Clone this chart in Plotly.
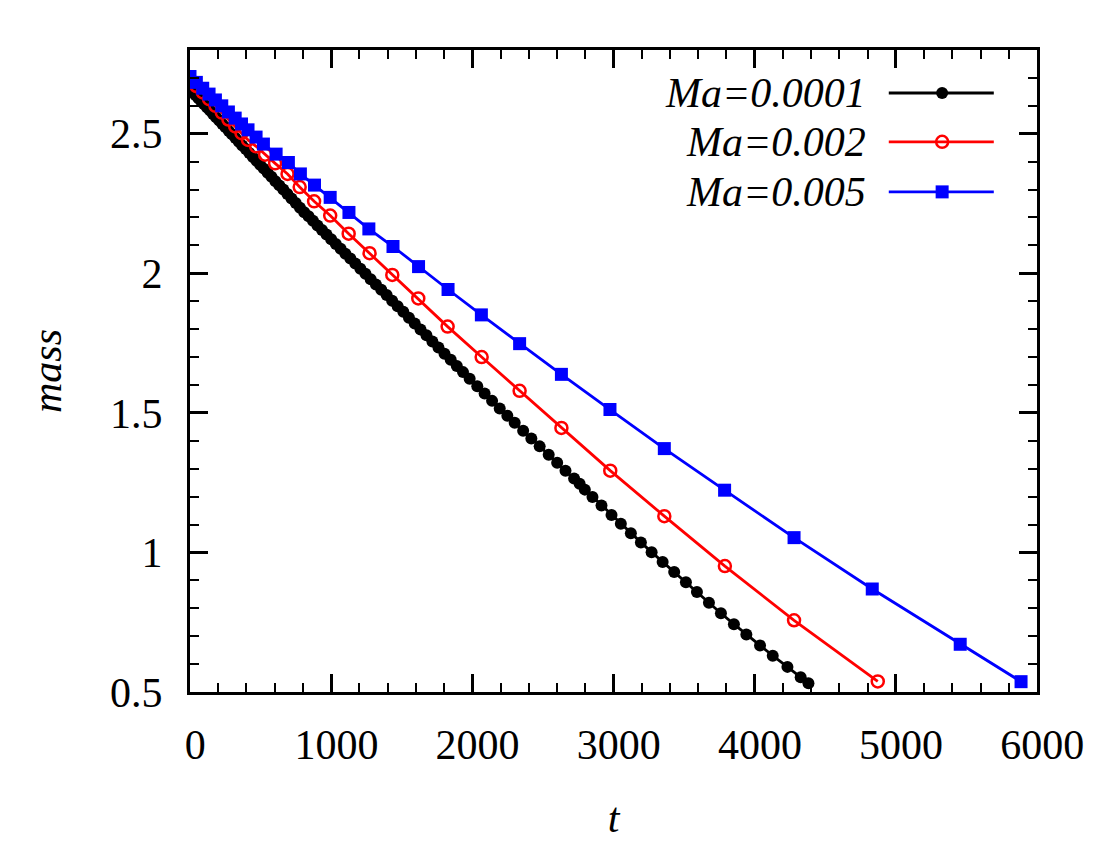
import plotly.graph_objects as go

# Ma = 0.0001 (black, filled circles)
t_a = [0, 20, 40, 60, 80, 100, 121, 142, 163, 185, 207, 229, 252, 275, 298, 322, 346, 370,
       395, 420, 445, 471, 497, 523, 550, 577, 605, 633, 661, 690, 719, 749, 779, 809, 840,
       871, 903, 935, 967, 1000, 1033, 1067, 1101, 1136, 1171, 1207, 1243, 1280, 1317, 1355,
       1393, 1432, 1471, 1511, 1551, 1592, 1633, 1675, 1717, 1760, 1803, 1847, 1890, 1934,
       1981, 2035, 2087, 2140, 2194, 2248, 2300, 2360, 2418, 2477, 2541, 2601, 2660, 2721,
       2760, 2797, 2851, 2915, 2986, 3052, 3123, 3194, 3270, 3348, 3430, 3513, 3591, 3676,
       3761, 3853, 3941, 4038, 4128, 4232, 4326, 4381]
m_a = [2.660, 2.649, 2.638, 2.627, 2.616, 2.606, 2.594, 2.583, 2.571, 2.559, 2.547, 2.535,
       2.523, 2.510, 2.498, 2.485, 2.471, 2.458, 2.445, 2.431, 2.417, 2.403, 2.389, 2.375,
       2.360, 2.346, 2.330, 2.315, 2.300, 2.284, 2.268, 2.252, 2.235, 2.219, 2.204, 2.188,
       2.171, 2.155, 2.139, 2.122, 2.105, 2.088, 2.070, 2.053, 2.035, 2.016, 1.998, 1.979,
       1.960, 1.941, 1.922, 1.902, 1.882, 1.862, 1.841, 1.820, 1.799, 1.778, 1.756, 1.734,
       1.712, 1.690, 1.668, 1.646, 1.622, 1.595, 1.569, 1.543, 1.516, 1.490, 1.465, 1.436,
       1.408, 1.380, 1.350, 1.321, 1.293, 1.265, 1.246, 1.225, 1.199, 1.168, 1.134, 1.103,
       1.069, 1.036, 1.001, 0.966, 0.930, 0.893, 0.858, 0.820, 0.782, 0.743, 0.706, 0.667,
       0.630, 0.590, 0.553, 0.531]

# Ma = 0.002 (red, open circles)
t_b = [0, 45, 90, 135, 180, 225, 272, 320, 365, 411, 468, 532, 603, 691, 777, 879, 993, 1124,
       1272, 1433, 1617, 1825, 2066, 2335, 2631, 2977, 3360, 3789, 4279, 4872]
m_b = [2.695, 2.671, 2.648, 2.624, 2.600, 2.576, 2.551, 2.526, 2.502, 2.478, 2.455, 2.425,
       2.394, 2.356, 2.309, 2.258, 2.207, 2.142, 2.072, 1.994, 1.910, 1.809, 1.700, 1.579,
       1.446, 1.293, 1.130, 0.951, 0.757, 0.538]

# Ma = 0.005 (blue, filled squares)
t_c = [0, 45, 90, 135, 180, 225, 272, 320, 365, 411, 468, 520, 610, 697, 782, 882, 993, 1126,
       1267, 1438, 1619, 1828, 2064, 2335, 2631, 2975, 3360, 3787, 4279, 4833, 5456, 5887]
m_c = [2.705, 2.684, 2.663, 2.642, 2.621, 2.600, 2.578, 2.556, 2.535, 2.514, 2.488, 2.463,
       2.427, 2.397, 2.356, 2.316, 2.272, 2.218, 2.159, 2.096, 2.024, 1.942, 1.851, 1.748,
       1.638, 1.512, 1.372, 1.223, 1.053, 0.869, 0.671, 0.537]

labels = ["Ma=0.0001", "Ma=0.002", "Ma=0.005"]
colors = ["black", "#ff0000", "#0000ff"]
markers = [dict(symbol="circle", size=12, color="black"),
           dict(symbol="circle-open", size=12, color="#ff0000", line=dict(width=2.5)),
           dict(symbol="square", size=13, color="#0000ff")]

FONT = "Liberation Serif"

fig = go.Figure()
for t, m, c, mk in zip([t_a, t_b, t_c], [m_a, m_b, m_c], colors, markers):
    fig.add_trace(go.Scatter(x=t, y=m, mode="lines+markers",
                             line=dict(color=c, width=2.8), marker=mk, showlegend=False))

# hand-made legend: text on the left, sample on the right
rows = [0.933, 0.857, 0.779]
for lab, c, mk, ry in zip(labels, colors, markers, rows):
    fig.add_trace(go.Scatter(x=[0.825, 0.949], y=[ry, ry], xaxis="x2", yaxis="y2",
                             mode="lines", line=dict(color=c, width=2.8),
                             showlegend=False, hoverinfo="skip"))
    fig.add_trace(go.Scatter(x=[0.888], y=[ry], xaxis="x2", yaxis="y2",
                             mode="markers", marker=mk, showlegend=False, hoverinfo="skip"))
    fig.add_annotation(x=0.800, y=ry, xref="paper", yref="paper", text="<i>%s</i>" % lab,
                       showarrow=False, xanchor="right", yanchor="middle",
                       font=dict(family=FONT, size=42, color="black"))

axis_common = dict(showline=True, linecolor="black", linewidth=3, mirror="ticks",
                   ticks="inside", ticklen=18, tickwidth=2.5, tickcolor="black",
                   showgrid=False, zeroline=False, automargin=False,
                   tickfont=dict(family=FONT, size=42, color="black"))

fig.update_layout(
    width=1100, height=850,
    margin=dict(l=182, r=71, t=42, b=166),
    plot_bgcolor="white", paper_bgcolor="white",
    xaxis=dict(range=[0, 6000], dtick=1000, tick0=0, tickprefix="\u2005",
               minor=dict(dtick=200, ticks="inside", ticklen=9, tickwidth=2, tickcolor="black"),
               ticklabelstandoff=14,
               title=dict(text="<i>t</i>", font=dict(family=FONT, size=42, color="black"),
                          standoff=36),
               **axis_common),
    yaxis=dict(range=[0.5, 2.8], dtick=0.5, tick0=0.5,
               minor=dict(dtick=0.1, ticks="inside", ticklen=9, tickwidth=2, tickcolor="black"),
               ticklabelstandoff=16,
               title=dict(text="<i>mass</i>", font=dict(family=FONT, size=42, color="black"),
                          standoff=36),
               **axis_common),
    xaxis2=dict(overlaying="x", range=[0, 1], visible=False),
    yaxis2=dict(overlaying="y", range=[0, 1], visible=False),
)

fig.write_html("out.html")
